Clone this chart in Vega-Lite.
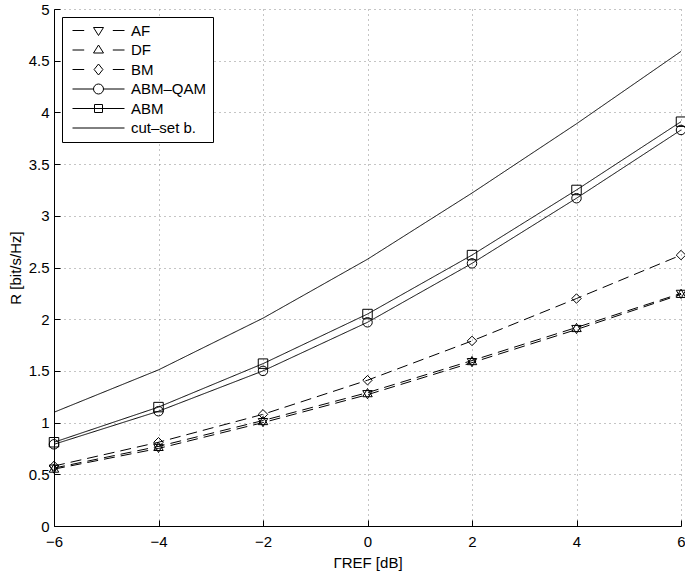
{
  "$schema": "https://vega.github.io/schema/vega-lite/v6.json",
  "width": 627,
  "height": 517,
  "autosize": "none",
  "padding": {"left": 54, "top": 9, "right": 4, "bottom": 52},
  "background": "white",
  "config": {
    "view": {"stroke": null},
    "font": "Liberation Sans",
    "axis": {
      "labelFont": "Liberation Sans",
      "labelFontSize": 15,
      "labelColor": "black",
      "titleFont": "Liberation Sans",
      "titleFontSize": 15,
      "titleFontWeight": "normal",
      "titleColor": "black",
      "domainColor": "black",
      "domainWidth": 1,
      "tickColor": "black",
      "tickSize": -6,
      "gridColor": "#8a8a8a",
      "gridDash": [1, 4],
      "gridWidth": 1,
      "gridOpacity": 1
    },
    "legend": {
      "orient": "top-left",
      "offset": 8,
      "strokeColor": "black",
      "fillColor": "white",
      "padding": 6,
      "cornerRadius": 0,
      "labelFont": "Liberation Sans",
      "labelFontSize": 15,
      "labelColor": "black",
      "labelOffset": 48,
      "rowPadding": 3.5,
      "symbolStrokeColor": "black",
      "symbolFillColor": "transparent",
      "symbolStrokeWidth": 1,
      "symbolOpacity": 1
    }
  },
  "data": {
    "values": [
      {"x": -6, "R": 0.55, "series": "AF"},
      {"x": -4, "R": 0.75, "series": "AF"},
      {"x": -2, "R": 1.0, "series": "AF"},
      {"x": 0, "R": 1.27, "series": "AF"},
      {"x": 2, "R": 1.58, "series": "AF"},
      {"x": 4, "R": 1.90, "series": "AF"},
      {"x": 6, "R": 2.24, "series": "AF"},
      {"x": -6, "R": 0.56, "series": "DF"},
      {"x": -4, "R": 0.77, "series": "DF"},
      {"x": -2, "R": 1.02, "series": "DF"},
      {"x": 0, "R": 1.29, "series": "DF"},
      {"x": 2, "R": 1.60, "series": "DF"},
      {"x": 4, "R": 1.92, "series": "DF"},
      {"x": 6, "R": 2.25, "series": "DF"},
      {"x": -6, "R": 0.58, "series": "BM"},
      {"x": -4, "R": 0.81, "series": "BM"},
      {"x": -2, "R": 1.08, "series": "BM"},
      {"x": 0, "R": 1.41, "series": "BM"},
      {"x": 2, "R": 1.79, "series": "BM"},
      {"x": 4, "R": 2.20, "series": "BM"},
      {"x": 6, "R": 2.62, "series": "BM"},
      {"x": -6, "R": 0.79, "series": "ABM–QAM"},
      {"x": -4, "R": 1.11, "series": "ABM–QAM"},
      {"x": -2, "R": 1.50, "series": "ABM–QAM"},
      {"x": 0, "R": 1.97, "series": "ABM–QAM"},
      {"x": 2, "R": 2.54, "series": "ABM–QAM"},
      {"x": 4, "R": 3.17, "series": "ABM–QAM"},
      {"x": 6, "R": 3.83, "series": "ABM–QAM"},
      {"x": -6, "R": 0.81, "series": "ABM"},
      {"x": -4, "R": 1.15, "series": "ABM"},
      {"x": -2, "R": 1.57, "series": "ABM"},
      {"x": 0, "R": 2.05, "series": "ABM"},
      {"x": 2, "R": 2.62, "series": "ABM"},
      {"x": 4, "R": 3.25, "series": "ABM"},
      {"x": 6, "R": 3.91, "series": "ABM"},
      {"x": -6, "R": 1.10, "series": "cut–set b."},
      {"x": -4, "R": 1.51, "series": "cut–set b."},
      {"x": -2, "R": 2.01, "series": "cut–set b."},
      {"x": 0, "R": 2.58, "series": "cut–set b."},
      {"x": 2, "R": 3.22, "series": "cut–set b."},
      {"x": 4, "R": 3.89, "series": "cut–set b."},
      {"x": 6, "R": 4.59, "series": "cut–set b."}
    ]
  },
  "encoding": {
    "x": {
      "field": "x",
      "type": "quantitative",
      "scale": {"domain": [-6, 6], "nice": false, "zero": false},
      "axis": {"values": [-6, -4, -2, 0, 2, 4, 6], "title": "ΓREF [dB]", "labelPadding": 14, "titlePadding": 6, "labelFlush": false}
    },
    "y": {
      "field": "R",
      "type": "quantitative",
      "scale": {"domain": [0, 5], "nice": false},
      "axis": {"values": [0, 0.5, 1, 1.5, 2, 2.5, 3, 3.5, 4, 4.5, 5], "format": "~g", "title": "R [bit/s/Hz]", "labelPadding": 11, "titlePadding": 5, "labelFlush": false}
    }
  },
  "layer": [
    {
      "mark": {"type": "line", "color": "black", "strokeWidth": 1},
      "encoding": {
        "strokeDash": {
          "field": "series",
          "type": "nominal",
          "scale": {
            "domain": ["AF", "DF", "BM", "ABM–QAM", "ABM", "cut–set b."],
            "range": [[11, 6], [11, 6], [11, 6], [1, 0], [1, 0], [1, 0]]
          },
          "legend": null
        }
      }
    },
    {
      "transform": [{"filter": "datum.series !== 'cut–set b.'"}],
      "mark": {"type": "point", "color": "black", "filled": false, "strokeWidth": 1, "size": 90, "opacity": 1},
      "encoding": {
        "shape": {
          "field": "series",
          "type": "nominal",
          "scale": {
            "domain": ["AF", "DF", "BM", "ABM–QAM", "ABM"],
            "range": ["triangle-down", "triangle-up", "diamond", "circle", "square"]
          },
          "legend": null
        }
      }
    },
    {
      "mark": {"type": "point", "color": "black", "filled": false, "strokeWidth": 1, "size": 100, "opacity": 0},
      "encoding": {
        "shape": {
          "field": "series",
          "type": "nominal",
          "scale": {
            "domain": ["AF", "DF", "BM", "ABM–QAM", "ABM", "cut–set b."],
            "range": [
              "M-0.6,0H1.74M7.46,0H9.8M3.6,-0.6L5.6,-0.6L4.6,1Z",
              "M-0.6,0H1.74M7.46,0H9.8M3.6,0.6L5.6,0.6L4.6,-1Z",
              "M-0.6,0H1.74M7.46,0H9.8M4.6,-1.1L5.48,0L4.6,1.1L3.72,0Z",
              "M-0.6,0H3.6M5.6,0H9.8M5.6,0A1,1,0,1,1,3.6,0A1,1,0,1,1,5.6,0Z",
              "M-0.6,0H9.8M3.8,-0.8H5.4V0.8H3.8Z",
              "M-0.6,0H9.8"
            ]
          },
          "legend": {"title": null, "symbolSize": 100, "symbolOpacity": 1}
        }
      }
    }
  ],
  "resolve": {"scale": {"shape": "independent"}, "legend": {"shape": "independent"}}
}
